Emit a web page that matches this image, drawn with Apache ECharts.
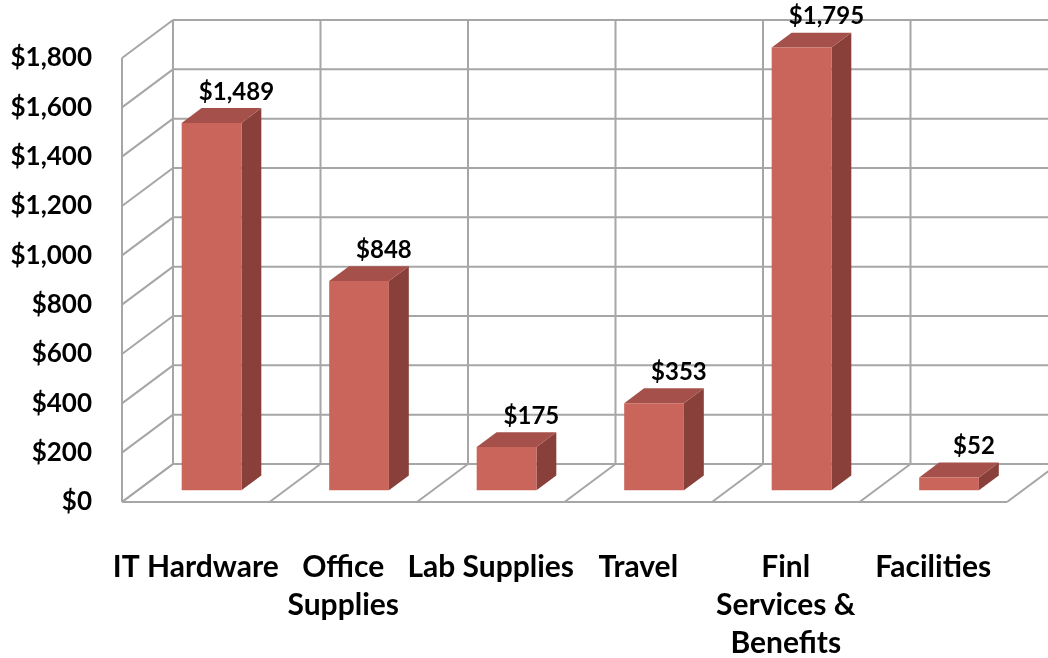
<!DOCTYPE html>
<html>
<head>
<meta charset="utf-8">
<title>Spending by category</title>
<script src="https://cdn.jsdelivr.net/npm/echarts@6/dist/echarts.min.js"></script>
<style>
  html, body { margin: 0; padding: 0; background: #fff; }
  #chart { width: 1048px; height: 658px; }
</style>
</head>
<body>
<div id="chart"></div>
<script>
const categories = ['IT Hardware', 'Office\nSupplies', 'Lab Supplies', 'Travel', 'Finl\nServices &\nBenefits', 'Facilities']
const amounts = [1489, 848, 175, 353, 1795, 52]
const yTicks = [0, 200, 400, 600, 800, 1000, 1200, 1400, 1600, 1800]

const fontFamily = 'Lato, "Liberation Sans", sans-serif'
const depth = [51, -38]              // floor front edge -> back wall, in px
const barFront = 0.31, barBack = 0.70 // where the bars sit in that depth
const barWidth = 0.405               // share of a category band
const lineColor = '#a6a6a6'
const frontColor = '#c9655b', topColor = '#a5504a', sideColor = '#8a403a'

function money(v) {
  return '$' + String(v).replace(/\B(?=(\d{3})+(?!\d))/g, ',')
}

var myChart = echarts.init(document.getElementById('chart'))

// back wall, left wall and floor of the box
function renderFrame(params, api) {
  var band = api.size([1, 0])[0]
  var x0 = api.coord([0, 0])[0] - band / 2
  var xEnd = x0 + band * categories.length
  var y0 = api.coord([0, 0])[1]
  var yTop = api.coord([0, yTicks[yTicks.length - 1]])[1]
  var dx = depth[0], dy = depth[1]
  var lines = []
  function line(x1, y1, x2, y2) {
    lines.push({ type: 'line', shape: { x1: x1, y1: y1, x2: x2, y2: y2 }, style: { stroke: lineColor, lineWidth: 2 } })
  }
  yTicks.forEach(v => {
    var y = api.coord([0, v])[1]
    line(x0, y, x0 + dx, y + dy)
    line(x0 + dx, y + dy, xEnd + dx, y + dy)
  })
  for (var i = 0; i <= categories.length; i++) {
    var x = x0 + band * i
    line(x + dx, y0 + dy, x + dx, yTop + dy)
    line(x, y0, x + dx, y0 + dy)
  }
  line(x0, y0, x0, yTop)
  line(x0, y0, xEnd, y0)
  return { type: 'group', children: lines }
}

function renderBar(params, api) {
  var i = api.value(0), v = api.value(1)
  var band = api.size([1, 0])[0]
  var half = band * barWidth / 2
  var base = api.coord([i, 0]), top = api.coord([i, v])
  var fx = depth[0] * barFront, fy = depth[1] * barFront
  var bx = depth[0] * barBack, by = depth[1] * barBack
  var L = base[0] - half + fx, R = base[0] + half + fx
  var yb = base[1] + fy, yt = top[1] + fy
  var sx = bx - fx, sy = by - fy
  return {
    type: 'group',
    children: [
      { type: 'polygon', shape: { points: [[R, yt], [R + sx, yt + sy], [R + sx, yb + sy], [R, yb]] }, style: { fill: sideColor } },
      { type: 'polygon', shape: { points: [[L, yt], [R, yt], [R + sx, yt + sy], [L + sx, yt + sy]] }, style: { fill: topColor } },
      { type: 'rect', shape: { x: L, y: yt, width: R - L, height: yb - yt }, style: { fill: frontColor } },
      {
        type: 'text',
        x: base[0] + bx + 5,
        y: top[1] + by - 16,
        style: { text: money(v), fill: '#000', font: 'bold 24px ' + fontFamily, align: 'center', verticalAlign: 'middle' }
      }
    ]
  }
}

myChart.setOption({
  animation: false,
  grid: { left: 122, top: 58, width: 885, height: 444, outerBoundsMode: 'none' },
  xAxis: {
    type: 'category',
    data: categories,
    axisLine: { show: false },
    axisTick: { show: false },
    splitLine: { show: false },
    axisLabel: {
      interval: 0,
      margin: 46,
      color: '#000',
      fontFamily: fontFamily,
      fontWeight: 'bold',
      fontSize: 30,
      lineHeight: 38
    }
  },
  yAxis: {
    type: 'value',
    min: 0,
    max: 1800,
    interval: 200,
    axisLine: { show: false },
    axisTick: { show: false },
    splitLine: { show: false },
    axisLabel: {
      margin: 30,
      color: '#000',
      fontFamily: fontFamily,
      fontWeight: 'bold',
      fontSize: 26,
      formatter: money
    }
  },
  series: [
    {
      type: 'custom',
      z: 1,
      silent: true,
      renderItem: renderFrame,
      data: [[0, 0]]
    },
    {
      type: 'custom',
      z: 2,
      renderItem: renderBar,
      encode: { x: 0, y: 1 },
      data: amounts.map((v, i) => [i, v])
    }
  ]
})

window.onresize = myChart.resize
</script>
</body>
</html>
